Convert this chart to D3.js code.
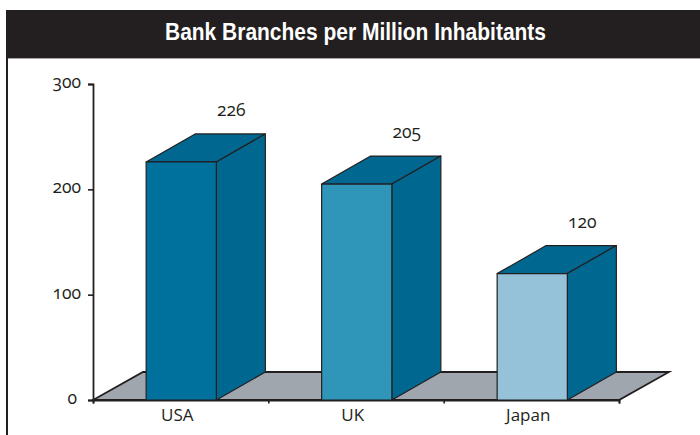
<!DOCTYPE html>
<html>
<head>
<meta charset="utf-8">
<script src="https://cdn.jsdelivr.net/npm/d3@7/dist/d3.min.js"></script>
<style>
  html, body { margin: 0; padding: 0; background: #fff; }
  svg { display: block; }
  .title { font-family: "Liberation Sans", sans-serif; font-weight: 700; font-size: 23.5px; fill: #fff; }
  .num { font-family: "Open Sans", sans-serif; font-size: 17.5px; fill: #231f20; font-variant-numeric: oldstyle-nums; font-feature-settings: "onum" 1; }
  .cat { font-family: "Open Sans", sans-serif; font-size: 17px; fill: #231f20; }
</style>
</head>
<body>
<div id="chart"></div>
<script>
const chartTitle = "Bank Branches per Million Inhabitants";
const categories = ["USA", "UK", "Japan"];
const branches = [226, 205, 120];
const frontColors = ["#00719c", "#2f96b9", "#96c2d9"];
const yTicks = [0, 100, 200, 300];

const width = 700, height = 435;
const ink = "#231f20", depthFill = "#006890", floorFill = "#a0a6ae";
const depthX = 49, depthY = 28;

const x = d3.scaleBand().domain(categories).range([93.5, 620]).paddingInner(0.6).paddingOuter(0.3);
const y = d3.scaleLinear().domain([0, 300]).range([400, 84]);

const svg = d3.select("#chart").append("svg").attr("width", width).attr("height", height);

// Title banner and the frame rule running down the left edge
svg.append("rect").attr("x", 6).attr("y", 10).attr("width", 694).attr("height", 48).attr("fill", ink);
svg.append("line").attr("x1", 6).attr("x2", 700).attr("y1", 58.5).attr("y2", 58.5).attr("stroke", "#a8a6a6");
svg.append("rect").attr("x", 6).attr("y", 58).attr("width", 2).attr("height", height - 58).attr("fill", ink);
svg.append("text").attr("class", "title").attr("x", 355.5).attr("y", 40).attr("text-anchor", "middle")
  .attr("textLength", 381).attr("lengthAdjust", "spacingAndGlyphs").text(chartTitle);

// Floor plane beneath the columns
const floorLeft = 93, floorRight = 619;
const floorPath = d3.line()([
  [floorLeft, y(0)],
  [floorRight, y(0)],
  [floorRight + depthX + 1, y(0) - depthY],
  [floorLeft + depthX + 1, y(0) - depthY]
]) + "Z";
svg.append("path").attr("d", floorPath).attr("fill", floorFill).attr("stroke", ink).attr("stroke-width", 1.8);

// Value axis
const yAxis = svg.append("g").attr("transform", "translate(93,0)")
  .call(d3.axisLeft(y).tickValues(yTicks).tickSize(5).tickPadding(7).tickFormat(d3.format("d")));
yAxis.selectAll("path").attr("stroke", ink).attr("stroke-width", 1.8);
yAxis.selectAll("line").attr("stroke", ink).attr("stroke-width", 1.6);
yAxis.selectAll("text").attr("class", "num").attr("font-family", null).attr("font-size", null).attr("fill", null)
  .attr("dy", "0.2em")
  .attr("dx", d => d === 0 ? -4 : 0);

// Category axis: ticks sit between the bands, labels below each column
const xEdges = d3.scaleLinear().domain([0, categories.length]).range([floorLeft, floorRight]);
const xAxis = svg.append("g").attr("transform", `translate(0,${y(0)})`)
  .call(d3.axisBottom(xEdges).ticks(categories.length).tickSize(3.5).tickFormat(""));
xAxis.selectAll("path").attr("stroke", ink).attr("stroke-width", 1.8);
xAxis.selectAll("line").attr("stroke", ink).attr("stroke-width", 1.6);

svg.selectAll("text.cat").data(categories).join("text")
  .attr("class", "cat")
  .attr("x", d => x(d) + x.bandwidth() / 2 - 4)
  .attr("y", 421)
  .attr("text-anchor", "middle")
  .text(d => d);

// Columns: top face, side face, then front face
const bars = svg.selectAll("g.bar").data(categories.map((c, i) => ({ c, v: branches[i], fill: frontColors[i] })))
  .join("g").attr("class", "bar")
  .attr("stroke", ink).attr("stroke-width", 1.2).attr("stroke-linejoin", "round");

const face = d3.line();
bars.append("path").attr("fill", depthFill).attr("d", d => {
  const l = x(d.c), r = l + x.bandwidth(), t = y(d.v);
  return face([[l, t], [l + depthX, t - depthY], [r + depthX, t - depthY], [r, t]]) + "Z";
});
bars.append("path").attr("fill", depthFill).attr("d", d => {
  const r = x(d.c) + x.bandwidth(), t = y(d.v), b = y(0);
  return face([[r, t], [r + depthX, t - depthY], [r + depthX, b - depthY], [r, b]]) + "Z";
});
bars.append("rect")
  .attr("x", d => x(d.c)).attr("y", d => y(d.v))
  .attr("width", x.bandwidth()).attr("height", d => y(0) - y(d.v))
  .attr("fill", d => d.fill);

// Value labels float above the back edge of each column
svg.selectAll("text.value").data(branches).join("text")
  .attr("class", "num value")
  .attr("x", (d, i) => x(categories[i]) + x.bandwidth() / 2 + 50)
  .attr("y", d => y(d) - 46)
  .attr("text-anchor", "middle")
  .text(d => d);
</script>
</body>
</html>
